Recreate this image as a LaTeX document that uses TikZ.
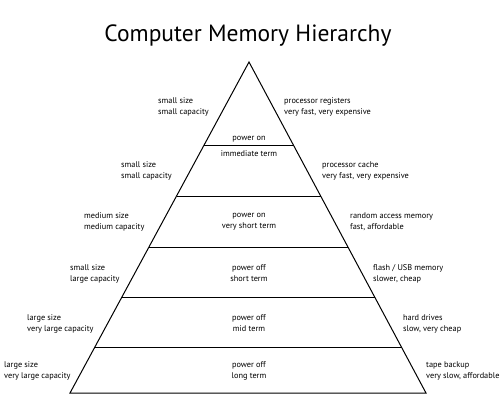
\documentclass[tikz,border=0pt]{standalone}
\usepackage{fontspec}
\setmainfont{PT Sans}
\usetikzlibrary{calc}

\tikzset{
  side/.style={align=left,anchor=west,inner sep=0pt},
  tier/.style={align=center,inner sep=0pt},
  edge/.style={line width=1pt}
}

\begin{document}
\begin{tikzpicture}[x=1pt,y=-1pt,font=\fontsize{8.3}{11}\selectfont]
\useasboundingbox (0,0) rectangle (500,400);

\begin{scope}
\coordinate (top) at (249,62);
\coordinate (bl) at (70,393);
\coordinate (br) at (426,393);

\node (title) at (248,36) {\fontsize{23.5}{28}\selectfont Computer Memory Hierarchy};

\draw[edge] (top) -- (bl) -- (br) -- cycle;
\foreach \f [count=\i] in {0.251,0.405,0.559,0.710,0.864}{
  \coordinate (l\i) at ($(top)!\f!(bl)$);
  \coordinate (r\i) at ($(top)!\f!(br)$);
  \draw[edge] (l\i) -- (r\i);
}

% left column
\node[side] (size1) at (158,107) {small size\\small capacity};
\node[side] (size2) at (121,171) {small size\\small capacity};
\node[side] (size3) at (84,221.5) {medium size\\medium capacity};
\node[side] (size4) at (70,273.5) {small size\\large capacity};
\node[side] (size5) at (27,323.5) {large size\\very large capacity};
\node[side] (size6) at (4,370.5) {large size\\very large capacity};

% right column
\node[side] (kind1) at (284,107) {processor registers\\very fast, very expensive};
\node[side] (kind2) at (322,171) {processor cache\\very fast, very expensive};
\node[side] (kind3) at (350,221.5) {random access memory\\fast, affordable};
\node[side] (kind4) at (373,273.5) {flash / USB memory\\slower, cheap};
\node[side] (kind5) at (403,323.5) {hard drives\\slow, very cheap};
\node[side] (kind6) at (426,370.5) {tape backup\\very slow, affordable};

% inside the pyramid
\node[tier] (power1) at (249,139) {power on};
\node[tier] (term1) at (249,154) {immediate term};
\node[tier] (term3) at (249,221.5) {power on\\very short term};
\node[tier] (term4) at (249,273.5) {power off\\short term};
\node[tier] (term5) at (249,323.5) {power off\\mid term};
\node[tier] (term6) at (249,370.5) {power off\\long term};
\end{scope}

\end{tikzpicture}
\end{document}
